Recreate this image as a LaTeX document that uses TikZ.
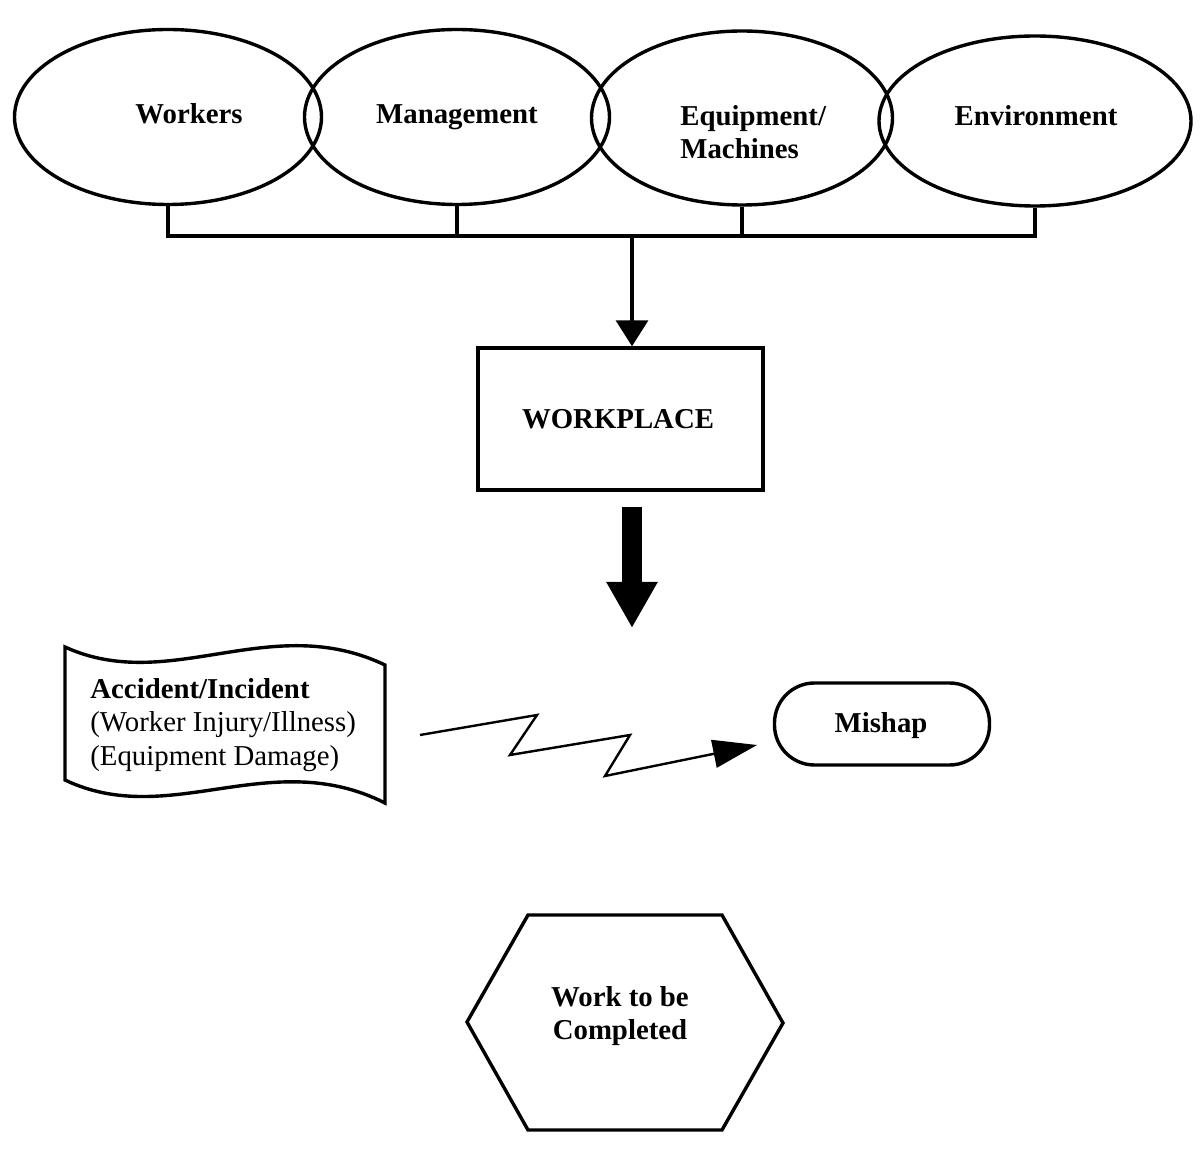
\documentclass[tikz,border=0pt]{standalone}
\usepackage{fontspec}
\setmainfont{Liberation Serif}
\usetikzlibrary{shapes.geometric,arrows.meta,calc}
\begin{document}
\begin{tikzpicture}[x=0.5pt,y=-0.5pt,
  ell/.style={draw, ellipse, line width=1.7pt, inner sep=0pt},
  bl/.style={font=\fontsize{14.4}{16.5}\selectfont\bfseries, inner sep=0pt},
  rg/.style={font=\fontsize{14.4}{16.5}\selectfont, inner sep=0pt},
  ln/.style={line width=1.7pt},
]
\useasboundingbox[fill=white] (0,0) rectangle (1200,1165);

% ellipses
\node[ell, minimum width=153.5pt, minimum height=87.5pt] (wk) at (168,117) {};
\node[ell, minimum width=152.5pt, minimum height=87.5pt] (mg) at (457,117) {};
\node[ell, minimum width=150.5pt, minimum height=87pt] (eq) at (742,118) {};
\node[ell, minimum width=156pt, minimum height=85pt] (en) at (1035,121) {};

\node[bl, anchor=base] (twk) at (189,124) {Workers};
\node[bl, anchor=base] (tmg) at (457,124) {Management};
\node[bl, anchor=base west] (teq1) at (680,126) {Equipment/};
\node[bl, anchor=base west] (teq2) at (680,159) {Machines};
\node[bl, anchor=base] (ten) at (1036,126) {Environment};

% bus
\coordinate (bar) at (632,236);
\draw[ln] (wk.south) -- (wk.south |- bar) -- (en.south |- bar) -- (en.south);
\draw[ln] (mg.south) -- (mg.south |- bar);
\draw[ln] (eq.south) -- (eq.south |- bar);

% workplace
\node[draw, ln, minimum width=142.5pt, minimum height=71pt] (wp) at (620.5,419) {};
\node[bl, anchor=base] (twp) at (618,429) {WORKPLACE};
\draw[ln, -{Triangle[width=16pt,length=13pt]}] (bar) -- (bar |- wp.north);

% thick arrow
\coordinate (ta) at (632,507);
\coordinate (tb) at (632,628);
\draw[line width=10pt, -{Triangle[width=24pt,length=23pt]}] (ta) -- (tb);

% tape
\draw[ln] (65,647) .. controls (170,695) and (270,610) .. (385,665)
  -- (385,803) .. controls (270,745) and (170,830) .. (65,780) -- cycle;
\coordinate (tape) at (225,725);
\node[bl, anchor=base west] (acc1) at (90,699) {Accident/Incident};
\node[rg, anchor=base west] (acc2) at (90,732) {(Worker Injury/Illness)};
\node[rg, anchor=base west] (acc3) at (90,766) {(Equipment Damage)};

% mishap
\node[draw, ln, rounded corners=20pt, minimum width=107.5pt, minimum height=41pt] (mis) at (882,724) {};
\node[bl, anchor=base] (tmis) at (881,733) {Mishap};

% zigzag
\coordinate (zs) at (420,735);
\coordinate (ze) at (757,745);
\draw[line width=1.2pt, -{Triangle[width=14pt,length=22pt]}]
  (zs) -- (537,715) -- (510,755) -- (630,735) -- (605,776) -- (ze);

% hexagon
\draw[ln] (528,915) -- (722,915) -- (783,1023) -- (722,1130) -- (528,1130) -- (467,1022) -- cycle;
\node[bl, anchor=base] (tw1) at (620,1006) {Work to be};
\node[bl, anchor=base] (tw2) at (620,1039) {Completed};
\end{tikzpicture}
\end{document}
